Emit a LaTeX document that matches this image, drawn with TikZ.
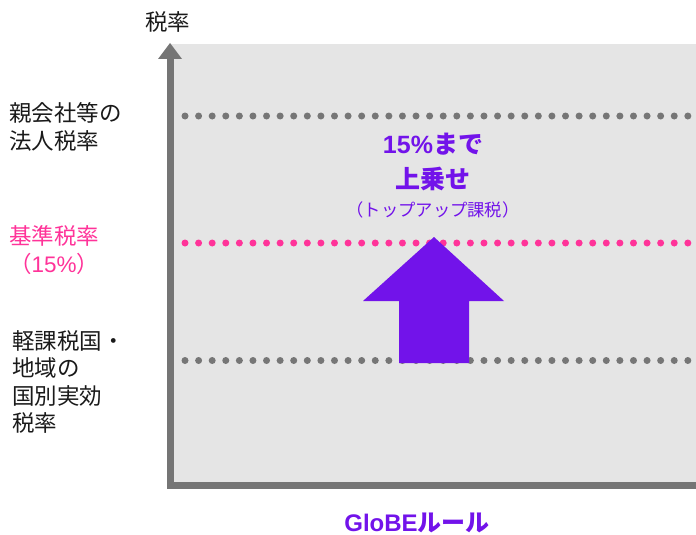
\documentclass[tikz,border=0pt]{standalone}
\usepackage{fontspec}
\setmainfont{Noto Sans CJK JP}
\newfontfamily\latf{Liberation Sans}
\definecolor{bggray}{HTML}{E5E5E5}
\definecolor{axisgray}{HTML}{757575}
\definecolor{dotgray}{HTML}{767676}
\definecolor{pinkc}{HTML}{FF3399}
\definecolor{purplec}{HTML}{7213EA}
\definecolor{textc}{HTML}{1A1A1A}
\tikzset{
  lbl/.style={anchor=base west, inner sep=0pt, font=\fontsize{22.5}{22.5}\selectfont, text=textc},
  plbl/.style={anchor=base, inner sep=0pt, text=purplec},
  dotline/.style={line width=7pt, line cap=round, dash pattern=on 0pt off 13.59pt},
  axis/.style={line width=7pt, draw=axisgray, line join=miter},
}
\begin{document}
\begin{tikzpicture}[x=1pt,y=-1pt]
\useasboundingbox (0,0) rectangle (696,535);
% background
\fill[bggray] (170,44) rectangle (696,482);
% dotted levels
\coordinate (p1s) at (185,116); \coordinate (p1e) at (688.2,116);
\coordinate (p2s) at (185,243); \coordinate (p2e) at (688.2,243);
\coordinate (p3s) at (185,360.5); \coordinate (p3e) at (688.2,360.5);
\draw[dotline, draw=dotgray] (p1s) -- (p1e);
\draw[dotline, draw=pinkc] (p2s) -- (p2e);
\draw[dotline, draw=dotgray] (p3s) -- (p3e);
% axes
\coordinate (ytop) at (170,58);
\coordinate (origin) at (170,485);
\coordinate (xend) at (696,485);
\draw[axis] (ytop) -- (origin) -- (xend);
\fill[axisgray] (158,59) -- (182,59) -- (170,43) -- cycle;
% up arrow
\fill[purplec] (399,363) -- (399,301) -- (363,301) -- (434,237) -- (504,301) -- (469,301) -- (469,363) -- cycle;
% labels
\node[lbl] (ylab) at (145,31) {税率};
\node[lbl] (l1a) at (9,121) {親会社等の};
\node[lbl] (l1b) at (9,149) {法人税率};
\node[lbl, text=pinkc] (l2a) at (9,244) {基準税率};
\node[lbl, text=pinkc] (l2b) at (9,272) {（{\latf 15\%}）};
\node[lbl] (l3a) at (12,349) {軽課税国・};
\node[lbl] (l3b) at (12,376) {地域の};
\node[lbl] (l3c) at (12,404) {国別実効};
\node[lbl] (l3d) at (12,431) {税率};
\node[plbl, font=\fontsize{25}{25}\selectfont\bfseries] (t1) at (433,153) {{\latf 15\%}まで};
\node[plbl, font=\fontsize{25}{25}\selectfont\bfseries] (t2) at (433,188) {上乗せ};
\node[plbl, font=\fontsize{17.3}{17.3}\selectfont] (t3) at (433,216) {（トップアップ課税）};
\node[plbl, font=\fontsize{24}{24}\selectfont\bfseries] (xlab) at (417,531) {{\latf GloBE}ルール};
\end{tikzpicture}
\end{document}
